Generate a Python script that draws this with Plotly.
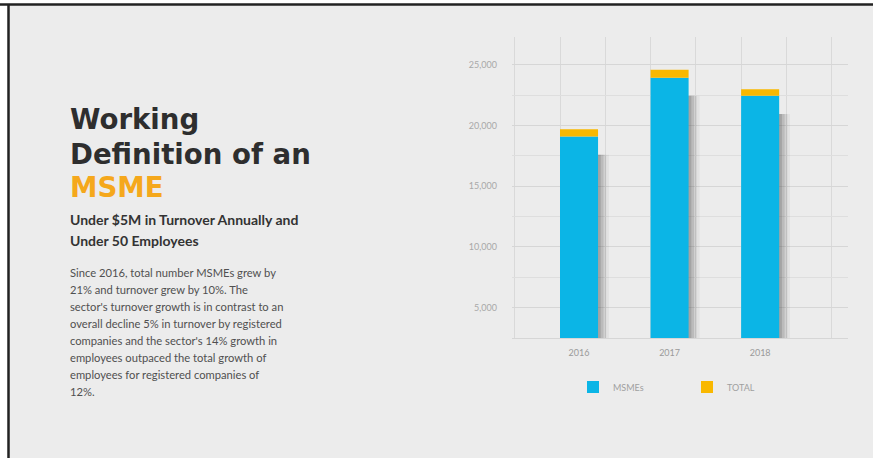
import plotly.graph_objects as go

# ---- data ----
years = ["2016", "2017", "2018"]
msmes = [19100, 23950, 22450]
total_extra = [600, 650, 550]
y_tickvals = [5000, 10000, 15000, 20000, 25000]
y_ticktext = ["5,000", "10,000", "15,000", "20,000", "25,000"]

title_lines = ["Working", "Definition of an"]
title_accent = "MSME"
subtitle_lines = ["Under $5M in Turnover Annually and", "Under 50 Employees"]
para_lines = [
    "Since 2016, total number MSMEs grew by",
    "21% and turnover grew by 10%. The",
    "sector's turnover growth is in contrast to an",
    "overall decline 5% in turnover by registered",
    "companies and the sector's 14% growth in",
    "employees outpaced the total growth of",
    "employees for registered companies of",
    "12%.",
]

W, H = 873, 458
BLUE = "#0bb5e6"
GOLD = "#f9b800"
BG = "#ececec"

def px(x):
    return x / W

def py(y):
    return 1 - y / H

idx = list(range(len(years)))
SHADOW_DROP = 1500
BAR_W = 0.42

fig = go.Figure()

# soft shadow layers (styling only)
for shift, alpha in [(0.12, 0.06), (0.09, 0.1), (0.06, 0.14), (0.03, 0.18)]:
    fig.add_trace(go.Bar(
        x=[i + shift for i in idx], y=[v - SHADOW_DROP for v in msmes],
        width=BAR_W, marker=dict(color=f"rgba(60,60,60,{alpha})", line=dict(width=0)),
        showlegend=False, hoverinfo="skip",
    ))

fig.add_trace(go.Bar(
    x=idx, y=msmes, name="MSMEs", width=BAR_W,
    marker=dict(color=BLUE, line=dict(width=0)),
))
fig.add_trace(go.Bar(
    x=idx, y=total_extra, base=msmes, name="TOTAL", width=BAR_W,
    marker=dict(color=GOLD, line=dict(width=0)),
))

annotations = []
title_font = dict(family="DejaVu Sans", size=27.6, color="#2e2e2e", weight="bold")
title_y = [120, 154]
for t, yy in zip(title_lines, title_y):
    annotations.append(dict(text=t, x=px(68), y=py(yy), xref="paper", yref="paper",
                            xanchor="left", yanchor="middle", showarrow=False, font=title_font))
annotations.append(dict(text=title_accent, x=px(68), y=py(187), xref="paper", yref="paper",
                        xanchor="left", yanchor="middle", showarrow=False,
                        font=dict(family="DejaVu Sans", size=27.6, color="#f5a81c", weight="bold")))
for t, yy in zip(subtitle_lines, [219, 241]):
    annotations.append(dict(text=t, x=px(68), y=py(yy), xref="paper", yref="paper",
                            xanchor="left", yanchor="middle", showarrow=False,
                            font=dict(family="Lato", size=14, color="#333333", weight="bold")))
for k, t in enumerate(para_lines):
    annotations.append(dict(text=t, x=px(68), y=py(272 + 17 * k), xref="paper", yref="paper",
                            xanchor="left", yanchor="middle", showarrow=False,
                            font=dict(family="Lato", size=11.2, color="#505050")))

shapes = [
    dict(type="rect", xref="paper", yref="paper", x0=px(8), x1=1.0, y0=0.0, y1=py(4),
         fillcolor=BG, line=dict(width=0), layer="below"),
    dict(type="line", xref="paper", yref="paper", x0=0, x1=1, y0=py(4.5), y1=py(4.5),
         line=dict(color="#222222", width=2.5)),
    dict(type="line", xref="paper", yref="paper", x0=px(8.5), x1=px(8.5), y0=0, y1=py(4),
         line=dict(color="#222222", width=2.5)),
]

x_lo = -0.74
x_hi = 2.97
fig.update_layout(
    width=W, height=H,
    margin=dict(l=0, r=0, t=0, b=0),
    paper_bgcolor="white", plot_bgcolor=BG,
    barmode="overlay",
    font=dict(family="Lato", color="#9a9a9a"),
    xaxis=dict(
        domain=[px(512), px(848)], range=[x_lo, x_hi],
        tickmode="array", tickvals=idx, ticktext=years,
        tickfont=dict(size=9, color="#9a9a9a"),
        showgrid=False, zeroline=False,
        showline=True, linecolor="#d6d6d6", linewidth=1,
        ticks="", ticklabelstandoff=6,
        minor=dict(showgrid=True, tick0=-0.21, dtick=0.5, gridcolor="#d9d9d9", gridwidth=1),
    ),
    yaxis=dict(
        domain=[py(338), py(37)], range=[2500, 27300],
        tickmode="array", tickvals=y_tickvals, ticktext=y_ticktext,
        tickfont=dict(size=9, color="#a8a8a8"),
        showgrid=True, gridcolor="#d6d6d6", gridwidth=1,
        zeroline=False, ticks="", ticklabelstandoff=14,
        minor=dict(showgrid=True, tick0=0, dtick=2500, gridcolor="#dedede", gridwidth=1),
    ),
    legend=dict(
        orientation="h", x=px(573), y=py(387), xanchor="left", yanchor="middle",
        bgcolor="rgba(0,0,0,0)", font=dict(size=9, color="#a0a0a0"),
        entrywidth=69, entrywidthmode="pixels", traceorder="normal",
    ),
    annotations=annotations,
    shapes=shapes,
    showlegend=True,
)

fig.write_html("out.html", config={"displayModeBar": False},
               post_script="document.body.style.margin='0px';")
